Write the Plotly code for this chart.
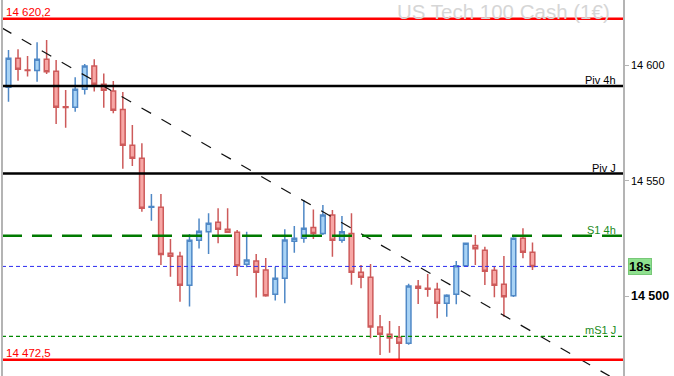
import plotly.graph_objects as go

# ---- data ----
opens = [14590.5, 14603.0, 14598.0, 14597.7, 14602.6, 14597.4, 14582.0, 14581.8, 14589.6, 14599.7,
         14591.8, 14588.9, 14580.9, 14565.4, 14559.7, 14538.5, 14538.5, 14518.6, 14517.3, 14504.7,
         14524.2, 14527.9, 14532.0, 14529.0, 14527.7, 14513.8, 14515.2, 14511.3, 14500.8, 14507.8,
         14523.8, 14525.1, 14529.8, 14527.2, 14535.2, 14524.2, 14527.2, 14510.4, 14508.2, 14486.7,
         14483.5, 14482.2, 14479.6, 14504.3, 14503.4, 14503.0, 14496.9, 14500.8, 14513.2, 14522.0,
         14519.9, 14511.2, 14505.2, 14500.2, 14525.1, 14519.0]
highs = [14606.6, 14606.9, 14604.0, 14610.0, 14611.0, 14602.3, 14589.3, 14594.8, 14600.6, 14602.6,
         14596.5, 14593.2, 14588.4, 14574.1, 14566.2, 14544.3, 14544.3, 14524.8, 14519.3, 14526.9,
         14533.7, 14535.9, 14538.1, 14538.1, 14528.7, 14527.9, 14518.3, 14516.5, 14512.8, 14529.0,
         14530.4, 14541.7, 14537.6, 14539.5, 14537.3, 14534.7, 14535.9, 14513.5, 14513.9, 14491.9,
         14489.3, 14487.1, 14505.4, 14507.0, 14509.6, 14505.8, 14500.8, 14515.2, 14523.3, 14526.5,
         14521.4, 14512.8, 14517.4, 14525.5, 14529.4, 14523.3]
lows = [14584.2, 14593.3, 14595.1, 14592.9, 14596.2, 14574.6, 14573.0, 14579.9, 14587.4, 14588.6,
        14581.6, 14579.2, 14555.2, 14556.4, 14536.6, 14532.7, 14513.5, 14508.4, 14497.6, 14495.5,
        14520.7, 14518.3, 14522.9, 14527.7, 14508.8, 14512.5, 14499.4, 14499.8, 14498.1, 14496.9,
        14518.8, 14523.2, 14524.8, 14526.5, 14517.1, 14523.2, 14505.0, 14503.4, 14481.8, 14474.5,
        14475.5, 14472.4, 14479.0, 14496.6, 14499.8, 14490.4, 14491.1, 14496.5, 14513.0, 14513.5,
        14504.9, 14499.5, 14491.1, 14499.7, 14516.4, 14511.4]
closes = [14603.0, 14598.3, 14597.7, 14602.6, 14597.2, 14581.8, 14581.7, 14589.6, 14599.7, 14591.8,
          14589.2, 14580.5, 14565.4, 14559.7, 14538.1, 14538.9, 14518.1, 14517.3, 14504.7, 14524.2,
          14528.1, 14531.6, 14529.0, 14527.7, 14513.2, 14515.7, 14510.4, 14500.2, 14507.8, 14524.3,
          14525.1, 14529.4, 14527.2, 14535.2, 14524.2, 14527.9, 14510.4, 14508.2, 14486.7, 14483.5,
          14481.9, 14479.6, 14504.4, 14503.4, 14503.0, 14496.9, 14500.4, 14513.2, 14522.9, 14520.6,
          14510.8, 14504.7, 14499.8, 14525.1, 14519.0, 14512.9]
bars = list(range(len(opens)))

level_names = ["high", "Piv 4h", "Piv J", "S1 4h", "last", "mS1 J", "low"]
level_values = [14620.2, 14591.0, 14553.1, 14526.2, 14512.9, 14482.6, 14472.5]

trend_x = [-0.7, 63.1]
trend_y = [14616.2, 14465.4]

tick_vals = [14500, 14550, 14600]
tick_text = ["<b><span style='font-size:12.5px'>14 500</span></b>", "14 550", "14 600"]

title_text = "US Tech 100 Cash (1€)"
timer_text = "18s"

# ---- figure ----
FONT = "Arial, Liberation Sans, sans-serif"
fig = go.Figure()

fig.add_trace(go.Scatter(x=trend_x, y=trend_y, mode="lines",
                         line=dict(color="#111111", width=1.2, dash="11px,12px"),
                         hoverinfo="skip", showlegend=False))

fig.add_trace(go.Candlestick(
    x=bars, open=opens, high=highs, low=lows, close=closes,
    increasing=dict(line=dict(color="#4f88c6", width=1.5), fillcolor="#a8d3f5"),
    decreasing=dict(line=dict(color="#cd5a5a", width=1.5), fillcolor="#f7a7a5"),
    whiskerwidth=0, showlegend=False, hoverinfo="skip"))

styles = {
    "high": dict(color="#ff0000", width=2.5, dash="solid"),
    "Piv 4h": dict(color="#000000", width=2.5, dash="solid"),
    "Piv J": dict(color="#000000", width=2.5, dash="solid"),
    "S1 4h": dict(color="#007a00", width=2.5, dash="20px,10px"),
    "last": dict(color="#2b2bf0", width=1, dash="4px,3px"),
    "mS1 J": dict(color="#008800", width=1.3, dash="4px,3px"),
    "low": dict(color="#ff0000", width=2.5, dash="solid"),
}
for name, val in zip(level_names, level_values):
    fig.add_hline(y=val, line=styles[name], layer="above")

label_colors = {"Piv 4h": "#000000", "Piv J": "#000000", "S1 4h": "#1a8a1a", "mS1 J": "#1a8a1a"}
for name, val in zip(level_names, level_values):
    if name in label_colors:
        fig.add_annotation(x=1, xref="paper", y=val, yref="y", text=name, showarrow=False,
                           xanchor="right", yanchor="bottom", xshift=-5, yshift=-2,
                           font=dict(family=FONT, size=11, color=label_colors[name]))
    elif name in ("high", "low"):
        fig.add_annotation(x=0, xref="paper", y=val, yref="y",
                           text=f"{val:,.1f}".replace(",", " ").replace(".", ","),
                           showarrow=False, xanchor="left", yanchor="bottom", xshift=2, yshift=-1,
                           font=dict(family=FONT, size=11.5, color="#ff0000"))
    elif name == "last":
        fig.add_annotation(x=1, xref="paper", y=val, yref="y", text=f"<b>{timer_text}</b>",
                           showarrow=False, xanchor="left", yanchor="middle", xshift=5,
                           bgcolor="#8fe08f", bordercolor="#78c878", borderwidth=1, borderpad=0,
                           font=dict(family=FONT, size=13, color="#000000"))

fig.add_annotation(x=1, xref="paper", y=1, yref="paper", text=title_text, showarrow=False,
                   xanchor="right", yanchor="top", xshift=-11, yshift=2,
                   font=dict(family=FONT, size=20.5, color="#d6d6d6"))

# left frame line
fig.add_shape(type="line", xref="paper", yref="paper", x0=0, x1=0, y0=0, y1=1,
              line=dict(color="#b4b4b4", width=2))

fig.update_layout(
    width=674, height=376,
    margin=dict(l=2, r=51, t=0, b=0),
    paper_bgcolor="#ffffff", plot_bgcolor="#ffffff",
    showlegend=False, hovermode=False,
    xaxis=dict(range=[-0.682, 64.5], visible=False, rangeslider=dict(visible=False),
               showgrid=False, zeroline=False),
    yaxis=dict(range=[14465.44, 14628.28], side="right", showgrid=False, zeroline=False,
               showline=True, linecolor="#b4b4b4", linewidth=1.5,
               ticks="outside", ticklen=4, tickcolor="#b4b4b4", tickwidth=1,
               tickvals=tick_vals, ticktext=tick_text,
               tickfont=dict(family=FONT, size=11, color="#000000")),
)

fig.write_html("out.html")
